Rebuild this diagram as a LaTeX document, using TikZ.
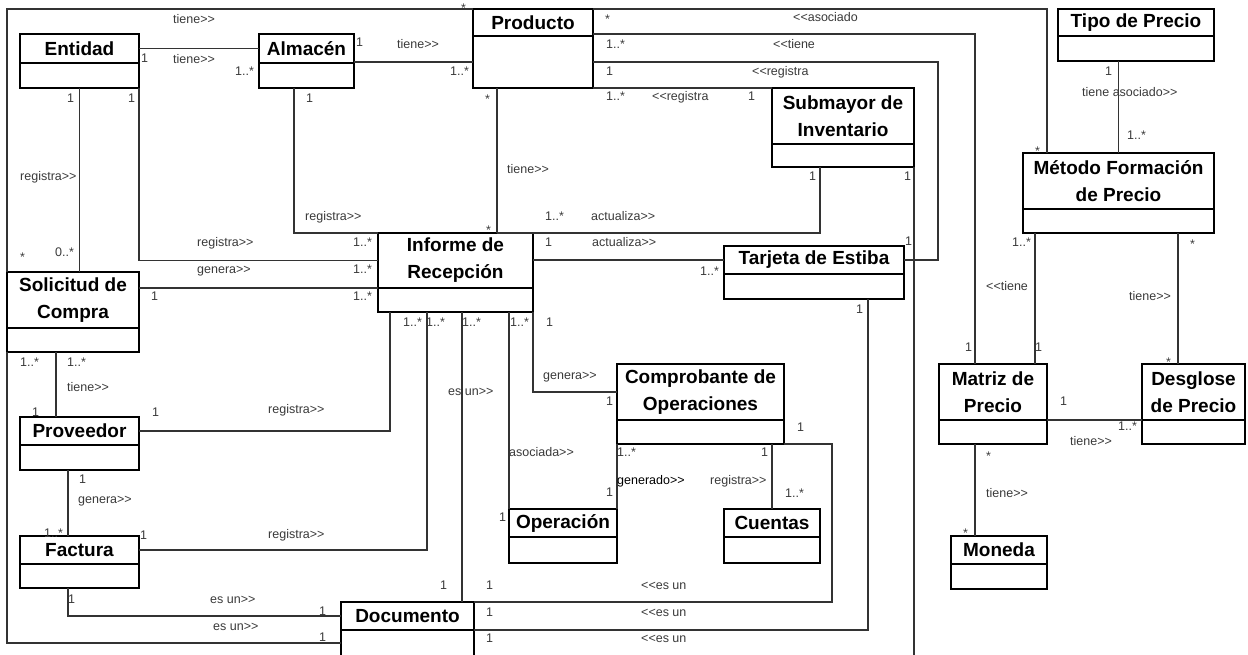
\documentclass[tikz,border=0pt]{standalone}
\usepackage{fontspec}
\setmainfont{Liberation Sans}
\usepackage{tikz}
\usetikzlibrary{positioning}
\definecolor{edge}{HTML}{333333}
\definecolor{muted}{HTML}{3A3A3A}
\newcommand\clsfont{\fontsize{19}{27}\selectfont\bfseries}
\newcommand\lblfont{\fontsize{12.5}{14}\selectfont}
\newcommand\gtgt{>{}>}
\newcommand\ltlt{<{}<}
\tikzset{
  cname/.style={draw=black, line width=1.3pt, inner sep=0pt, outer sep=0pt, align=center, font=\clsfont},
  cattr/.style={draw=black, line width=1.3pt, inner sep=0pt, outer sep=0pt},
  assoc/.style={draw=edge, line width=1.1pt},
  lab/.style={text=muted, font=\lblfont, anchor=west, inner sep=0pt, text height=9pt, text depth=2.5pt},
}

\begin{document}
\begin{tikzpicture}[x=1pt, y=-1pt]
  \fill[white] (0,0) rectangle (1248,654);
  \useasboundingbox (0,0) rectangle (1248,654);
  % classes
  \node[cname, minimum width=119, minimum height=29] (ent) at (79.5,48.5) {Entidad};
  \node[cattr, minimum width=119, minimum height=25, below=0pt of ent] (ent-a) {};
  \node[cname, minimum width=95, minimum height=29] (alm) at (306.5,48.5) {Almacén};
  \node[cattr, minimum width=95, minimum height=25, below=0pt of alm] (alm-a) {};
  \node[cname, minimum width=120, minimum height=27] (prod) at (533,22.5) {Producto};
  \node[cattr, minimum width=120, minimum height=52, below=0pt of prod] (prod-a) {};
  \node[cname, minimum width=142, minimum height=56] (subm) at (843,116) {Submayor de\\Inventario};
  \node[cattr, minimum width=142, minimum height=23, below=0pt of subm] (subm-a) {};
  \node[cname, minimum width=155, minimum height=55] (inf) at (455.5,260.5) {Informe de\\Recepción};
  \node[cattr, minimum width=155, minimum height=24, below=0pt of inf] (inf-a) {};
  \node[cname, minimum width=180, minimum height=28] (tarj) at (814,260) {Tarjeta de Estiba};
  \node[cattr, minimum width=180, minimum height=25, below=0pt of tarj] (tarj-a) {};
  \node[cname, minimum width=132, minimum height=56] (sol) at (73,300) {Solicitud de\\Compra};
  \node[cattr, minimum width=132, minimum height=24, below=0pt of sol] (sol-a) {};
  \node[cname, minimum width=119, minimum height=28] (prov) at (79.5,431) {Proveedor};
  \node[cattr, minimum width=119, minimum height=25, below=0pt of prov] (prov-a) {};
  \node[cname, minimum width=119, minimum height=28] (fact) at (79.5,550) {Factura};
  \node[cattr, minimum width=119, minimum height=24, below=0pt of fact] (fact-a) {};
  \node[cname, minimum width=133, minimum height=28] (doc) at (407.5,616) {Documento};
  \node[cattr, minimum width=133, minimum height=26, below=0pt of doc] (doc-a) {};
  \node[cname, minimum width=167, minimum height=56] (comp) at (700.5,392) {Comprobante de\\Operaciones};
  \node[cattr, minimum width=167, minimum height=24, below=0pt of comp] (comp-a) {};
  \node[cname, minimum width=108, minimum height=28] (oper) at (563,523) {Operación};
  \node[cattr, minimum width=108, minimum height=26, below=0pt of oper] (oper-a) {};
  \node[cname, minimum width=96, minimum height=28] (cuen) at (772,523) {Cuentas};
  \node[cattr, minimum width=96, minimum height=26, below=0pt of cuen] (cuen-a) {};
  \node[cname, minimum width=156, minimum height=27] (tipo) at (1136,22.5) {Tipo de Precio};
  \node[cattr, minimum width=156, minimum height=25, below=0pt of tipo] (tipo-a) {};
  \node[cname, minimum width=191, minimum height=56] (met) at (1118.5,181) {Método Formación\\de Precio};
  \node[cattr, minimum width=191, minimum height=24, below=0pt of met] (met-a) {};
  \node[cname, minimum width=108, minimum height=56] (mat) at (993,392) {Matriz de\\Precio};
  \node[cattr, minimum width=108, minimum height=24, below=0pt of mat] (mat-a) {};
  \node[cname, minimum width=103, minimum height=56] (desg) at (1193.5,392) {Desglose\\de Precio};
  \node[cattr, minimum width=103, minimum height=24, below=0pt of desg] (desg-a) {};
  \node[cname, minimum width=96, minimum height=28] (mon) at (999,550) {Moneda};
  \node[cattr, minimum width=96, minimum height=25, below=0pt of mon] (mon-a) {};

  % associations
  \draw[assoc] (ent.east) -- (alm.west);
  \draw[assoc] (alm-a.east |- prod-a.west) -- (prod-a.west);
  \draw[assoc] (prod.north west) -| (sol.north west);
  \draw[assoc] (497,0 |- prod-a.south) -- (497,0 |- inf.north);
  \draw[assoc] (prod-a.south east) -- (subm.north west);
  \draw[assoc] (prod.north east) -| (1047,0 |- met.north);
  \draw[assoc] ([yshift=2pt]prod.south east) -| (975,0 |- mat.north);
  \draw[assoc] (prod-a.east) -| (938,0 |- tarj.east) -- (tarj.east);
  \draw[assoc] (ent-a.south east) |- (inf.west);
  \draw[assoc] (ent-a.south) -- (ent-a.south |- sol.north);
  \draw[assoc] (294,0 |- alm-a.south) |- (inf.north west);
  \draw[assoc] (sol.east |- inf.south west) -- (inf.south west);
  \draw[assoc] (56,0 |- sol-a.south) -- (56,0 |- prov.north);
  \draw[assoc] (sol-a.south west) |- (doc-a.west);
  \draw[assoc] (prov.east) -| (390,0 |- inf-a.south);
  \draw[assoc] (68,0 |- prov-a.south) -- (68,0 |- fact.north);
  \draw[assoc] (fact.east) -| (427,0 |- inf-a.south);
  \draw[assoc] (68,0 |- fact-a.south) |- (doc.west);
  \draw[assoc] (462,0 |- inf-a.south) -- (462,0 |- doc.north);
  \draw[assoc] (oper.north west |- inf-a.south) -- (oper.north west);
  \draw[assoc] (inf-a.south east) |- (comp.west);
  \draw[assoc] (inf.east |- tarj.west) -- (tarj.west);
  \draw[assoc] (820,0 |- subm-a.south) |- (497,0 |- inf.north);
  \draw[assoc] (comp-a.south east) -| (832,0 |- doc.north) -- (doc.north east);
  \draw[assoc] (comp-a.south west) -- (oper.north east);
  \draw[assoc] (cuen.north |- comp-a.south) -- (cuen.north);
  \draw[assoc] (868,0 |- tarj-a.south) |- (doc-a.north east);
  \draw[assoc] (subm-a.south east) |- (doc-a.south east);
  \draw[assoc] (met.north |- tipo-a.south) -- (met.north);
  \draw[assoc] (1035,0 |- met-a.south) -- (1035,0 |- mat.north);
  \draw[assoc] (1178,0 |- met-a.south) -- (1178,0 |- desg.north);
  \draw[assoc] (mat.south east) -- (desg.south west);
  \draw[assoc] (975,0 |- mat-a.south) -- (975,0 |- mon.north);

  % multiplicities and role names
  \node[lab] (ea1) at (141,59) {1}; \node[lab] (ea2) at (173,60) {tiene\gtgt}; \node[lab] (ea3) at (235,72) {1..*};
  \node[lab] (ap1) at (356,43) {1}; \node[lab] (ap2) at (397,45) {tiene\gtgt}; \node[lab] (ap3) at (450,72) {1..*};
  \node[lab] (ps1) at (461,9) {*}; \node[lab] (ps2) at (173,20) {tiene\gtgt}; \node[lab] (ps3) at (20,258) {*};
  \node[lab] (pi1) at (485,100) {*}; \node[lab] (pi2) at (507,170) {tiene\gtgt}; \node[lab] (pi3) at (486,231) {*};
  \node[lab] (pu1) at (606,97) {1..*}; \node[lab] (pu2) at (652,97) {\ltlt registra}; \node[lab] (pu3) at (748,97) {1};
  \node[lab] (pm1) at (605,20) {*}; \node[lab] (pm2) at (793,18) {\ltlt asociado}; \node[lab] (pm3) at (1035,152) {*};
  \node[lab] (px1) at (606,45) {1..*}; \node[lab] (px2) at (773,45) {\ltlt tiene}; \node[lab] (px3) at (965,348) {1};
  \node[lab] (pt1) at (606,72) {1}; \node[lab] (pt2) at (752,72) {\ltlt registra}; \node[lab] (pt3) at (905,242) {1};
  \node[lab] (ei1) at (128,99) {1}; \node[lab] (ei2) at (197,243) {registra\gtgt}; \node[lab] (ei3) at (353,243) {1..*};
  \node[lab] (es1) at (67,99) {1}; \node[lab] (es2) at (20,177) {registra\gtgt}; \node[lab] (es3) at (55,253) {0..*};
  \node[lab] (ai1) at (306,99) {1}; \node[lab] (ai2) at (305,217) {registra\gtgt};
  \node[lab] (si1) at (151,297) {1}; \node[lab] (si2) at (197,270) {genera\gtgt}; \node[lab] (si3) at (353,270) {1..*}; \node[lab] (si4) at (353,297) {1..*};
  \node[lab] (sp1) at (67,363) {1..*}; \node[lab] (sp2) at (67,388) {tiene\gtgt}; \node[lab] (sp3) at (32,413) {1};
  \node[lab] (sd1) at (20,363) {1..*}; \node[lab] (sd2) at (213,627) {es un\gtgt}; \node[lab] (sd3) at (319,638) {1};
  \node[lab] (pr1) at (152,413) {1}; \node[lab] (pr2) at (268,410) {registra\gtgt}; \node[lab] (pr3) at (403,323) {1..*};
  \node[lab] (pf1) at (79,480) {1}; \node[lab] (pf2) at (78,500) {genera\gtgt}; \node[lab] (pf3) at (44,534) {1..*};
  \node[lab] (fi1) at (140,536) {1}; \node[lab] (fi2) at (268,535) {registra\gtgt}; \node[lab] (fi3) at (426,323) {1..*};
  \node[lab] (fd1) at (68,600) {1}; \node[lab] (fd2) at (210,600) {es un\gtgt}; \node[lab] (fd3) at (319,612) {1};
  \node[lab] (id1) at (462,323) {1..*}; \node[lab] (id2) at (448,392) {es un\gtgt}; \node[lab] (id3) at (440,586) {1};
  \node[lab] (io1) at (510,323) {1..*}; \node[lab] (io2) at (509,453) {asociada\gtgt}; \node[lab] (io3) at (499,518) {1};
  \node[lab] (ic1) at (546,323) {1}; \node[lab] (ic2) at (543,376) {genera\gtgt}; \node[lab] (ic3) at (606,402) {1};
  \node[lab] (it1) at (545,243) {1}; \node[lab] (it2) at (592,243) {actualiza\gtgt}; \node[lab] (it3) at (700,272) {1..*};
  \node[lab] (ui1) at (809,177) {1}; \node[lab] (ui2) at (545,217) {1..*}; \node[lab] (ui3) at (591,217) {actualiza\gtgt};
  \node[lab] (cd1) at (797,428) {1}; \node[lab] (cd2) at (486,586) {1}; \node[lab] (cd3) at (641,586) {\ltlt es un};
  \node[lab] (co1) at (617,453) {1..*}; \node[lab,text=black] (co2) at (617,481) {generado\gtgt}; \node[lab] (co3) at (606,493) {1};
  \node[lab] (cc1) at (761,453) {1}; \node[lab] (cc2) at (710,481) {registra\gtgt}; \node[lab] (cc3) at (785,494) {1..*};
  \node[lab] (td1) at (856,310) {1}; \node[lab] (td2) at (486,613) {1}; \node[lab] (td3) at (641,613) {\ltlt es un};
  \node[lab] (ud1) at (904,177) {1}; \node[lab] (ud2) at (486,639) {1}; \node[lab] (ud3) at (641,639) {\ltlt es un};
  \node[lab] (tm1) at (1105,72) {1}; \node[lab] (tm2) at (1082,93) {tiene asociado\gtgt}; \node[lab] (tm3) at (1127,136) {1..*};
  \node[lab] (mm1) at (1012,243) {1..*}; \node[lab] (mm2) at (986,287) {\ltlt tiene}; \node[lab] (mm3) at (1035,348) {1};
  \node[lab] (md1) at (1190,245) {*}; \node[lab] (md2) at (1129,297) {tiene\gtgt}; \node[lab] (md3) at (1166,363) {*};
  \node[lab] (xd1) at (1060,402) {1}; \node[lab] (xd2) at (1070,442) {tiene\gtgt}; \node[lab] (xd3) at (1118,427) {1..*};
  \node[lab] (xm1) at (986,457) {*}; \node[lab] (xm2) at (986,494) {tiene\gtgt}; \node[lab] (xm3) at (963,534) {*};
\end{tikzpicture}
\end{document}
